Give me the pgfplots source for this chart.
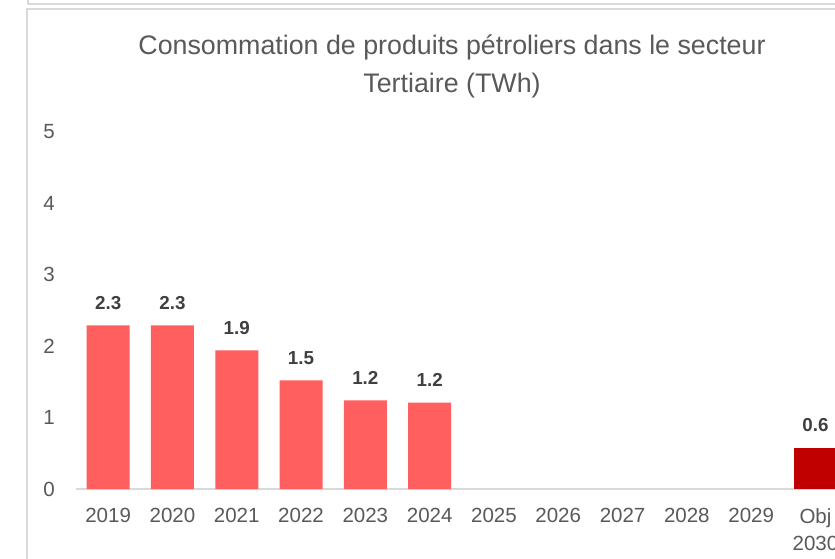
\documentclass[border=0pt]{standalone}
\usepackage{fontspec}
\setmainfont{Liberation Sans}
\usepackage{pgfplots}
\pgfplotsset{compat=1.18}
\definecolor{lightred}{HTML}{FF5F5F}
\definecolor{darkred}{HTML}{C00000}
\definecolor{txt}{HTML}{595959}
\definecolor{lbl}{HTML}{404040}
\definecolor{framec}{HTML}{D9D9D9}
\begin{document}
\begin{tikzpicture}
\useasboundingbox (0pt,0pt) rectangle (835pt,558pt);
\clip (0pt,0pt) rectangle (835pt,558pt);
\fill[white] (0pt,0pt) rectangle (835pt,558pt);
\draw[framec, line width=2pt] (28pt,560pt) -- (28pt,554pt) -- (840pt,554pt);
\draw[framec, line width=2pt] (27pt,-2pt) -- (27pt,549pt) -- (840pt,549pt);
\node[font=\fontsize{26.8}{38}\selectfont, text=txt, align=center] at (452pt,492pt) {Consommation de produits pétroliers dans le secteur\\Tertiaire (TWh)};
\begin{axis}[
  at={(76pt,69pt)}, anchor=south west,
  scale only axis, width=771.6pt, height=357pt,
  xmin=-0.5, xmax=11.5, ymin=0, ymax=5,
  ybar, bar width=43pt, bar shift=0pt,
  axis x line*=bottom, axis y line*=left,
  x axis line style={-, draw=framec, line width=2pt},
  y axis line style={draw=none},
  major tick length=0pt,
  xtick={0,1,2,3,4,5,6,7,8,9,10,11},
  xticklabels={2019,2020,2021,2022,2023,2024,2025,2026,2027,2028,2029,{Obj\\2030}},
  ytick={0,1,2,3,4,5},
  /pgf/number format/.cd, fixed, precision=1, assume math mode=true, /pgfplots/.cd,
  xticklabel style={font=\fontsize{20.5}{27.5}\selectfont, text=txt, align=center, anchor=north, yshift=-19pt, inner sep=0pt},
  yticklabel style={font=\fontsize{20.5}{26}\selectfont, text=txt, anchor=east, inner sep=0pt, xshift=-21pt},
  nodes near coords,
  nodes near coords style={font=\bfseries\fontsize{18.8}{22}\selectfont, text=lbl, anchor=base, yshift=16pt, inner sep=0pt},
  clip=false,
]
\addplot[fill=lightred, draw=none] coordinates {(0,2.29) (1,2.29) (2,1.94) (3,1.52) (4,1.24) (5,1.21)};
\addplot[fill=darkred, draw=none] coordinates {(11,0.58)};
\end{axis}
\end{tikzpicture}
\end{document}
